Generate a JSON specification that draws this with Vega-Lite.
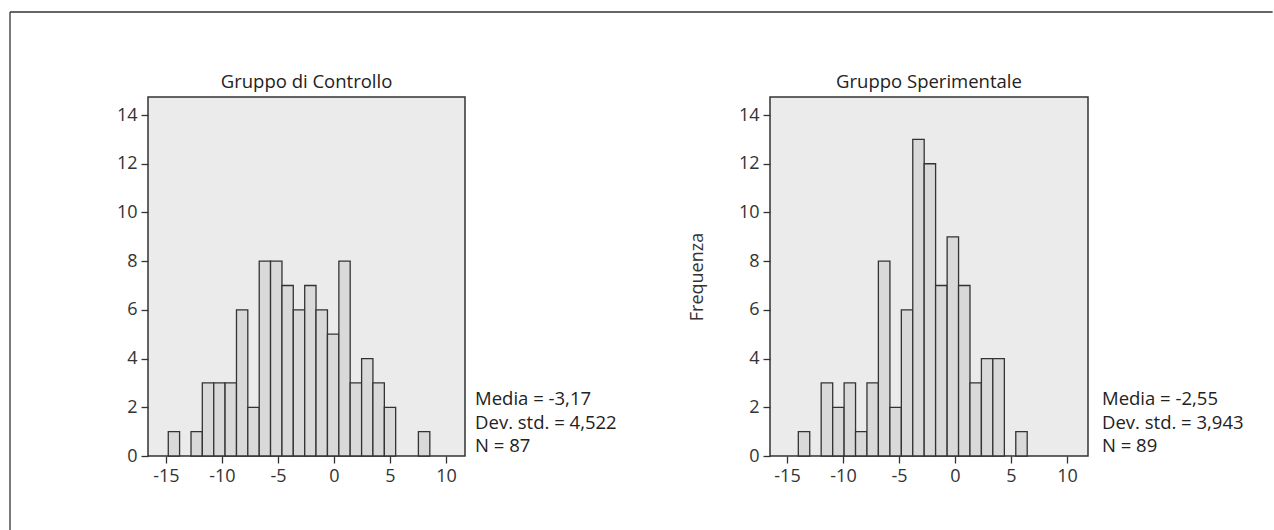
{
  "$schema": "https://vega.github.io/schema/vega-lite/v6.json",
  "padding": {"left": 8, "top": 10, "right": 0, "bottom": 0},
  "background": "white",
  "config": {
    "font": "Open Sans",
    "view": {"stroke": "#333333", "strokeWidth": 1.5, "fill": "#ebebeb"},
    "axis": {"grid": false, "domain": false, "tickColor": "#333333", "tickSize": 7, "tickWidth": 1.3, "labelColor": "#333333", "labelFontSize": 18, "labelPadding": 4, "titleColor": "#333333", "titleFontSize": 18, "titleFontWeight": "normal", "labelExpr": "'' + datum.value"},
    "title": {"fontSize": 18.5, "fontWeight": "normal", "color": "#222222", "offset": 8}
  },
  "datasets": {
    "controllo": [
      {"start": -14.79, "end": -13.78, "count": 1},
      {"start": -12.76, "end": -11.75, "count": 1},
      {"start": -11.75, "end": -10.73, "count": 3},
      {"start": -10.73, "end": -9.72, "count": 3},
      {"start": -9.72, "end": -8.70, "count": 3},
      {"start": -8.70, "end": -7.69, "count": 6},
      {"start": -7.69, "end": -6.67, "count": 2},
      {"start": -6.67, "end": -5.66, "count": 8},
      {"start": -5.66, "end": -4.64, "count": 8},
      {"start": -4.64, "end": -3.63, "count": 7},
      {"start": -3.63, "end": -2.61, "count": 6},
      {"start": -2.61, "end": -1.60, "count": 7},
      {"start": -1.60, "end": -0.58, "count": 6},
      {"start": -0.58, "end": 0.44, "count": 5},
      {"start": 0.44, "end": 1.45, "count": 8},
      {"start": 1.45, "end": 2.47, "count": 3},
      {"start": 2.47, "end": 3.48, "count": 4},
      {"start": 3.48, "end": 4.50, "count": 3},
      {"start": 4.50, "end": 5.51, "count": 2},
      {"start": 7.54, "end": 8.56, "count": 1}
    ],
    "sperimentale": [
      {"start": -13.99, "end": -12.97, "count": 1},
      {"start": -11.95, "end": -10.92, "count": 3},
      {"start": -10.92, "end": -9.90, "count": 2},
      {"start": -9.90, "end": -8.88, "count": 3},
      {"start": -8.88, "end": -7.86, "count": 1},
      {"start": -7.86, "end": -6.84, "count": 3},
      {"start": -6.84, "end": -5.81, "count": 8},
      {"start": -5.81, "end": -4.79, "count": 2},
      {"start": -4.79, "end": -3.77, "count": 6},
      {"start": -3.77, "end": -2.75, "count": 13},
      {"start": -2.75, "end": -1.73, "count": 12},
      {"start": -1.73, "end": -0.70, "count": 7},
      {"start": -0.70, "end": 0.32, "count": 9},
      {"start": 0.32, "end": 1.34, "count": 7},
      {"start": 1.34, "end": 2.36, "count": 3},
      {"start": 2.36, "end": 3.38, "count": 4},
      {"start": 3.38, "end": 4.41, "count": 4},
      {"start": 5.43, "end": 6.45, "count": 1}
    ],
    "stat_c": [{"stat": "Media = -3,17\nDev. std. = 4,522\nN = 87"}],
    "stat_s": [{"stat": "Media = -2,55\nDev. std. = 3,943\nN = 89"}],
    "frame": [{"name": "cornice"}]
  },
  "bounds": "flush",
  "spacing": 305,
  "hconcat": [
    {
      "width": 317,
      "height": 359,
      "title": {"text": "Gruppo di Controllo", "dy": 88},
      "layer": [
        {
          "data": {"name": "frame"},
          "mark": {"type": "rule", "stroke": "#333333", "strokeWidth": 1.3, "clip": false},
          "encoding": {
            "x": {"datum": -28.92, "type": "quantitative"},
            "y": {"datum": 18.23, "type": "quantitative"},
            "y2": {"datum": -3.04}
          }
        },
        {
          "data": {"name": "frame"},
          "mark": {"type": "rule", "stroke": "#333333", "strokeWidth": 1.3, "clip": false},
          "encoding": {
            "x": {"datum": -28.92, "type": "quantitative"},
            "x2": {"datum": 83.8},
            "y": {"datum": 18.23, "type": "quantitative"}
          }
        },
        {
          "data": {"name": "controllo"},
          "mark": {"type": "rect", "fill": "#d9d9d9", "stroke": "#333333", "strokeWidth": 1.3},
          "encoding": {
            "x": {"field": "start", "type": "quantitative", "scale": {"domain": [-16.6, 11.7], "nice": false, "zero": false}, "axis": {"values": [-15, -10, -5, 0, 5, 10], "title": null}},
            "x2": {"field": "end"},
            "y": {"field": "count", "type": "quantitative", "scale": {"domain": [0, 14.74], "nice": false}, "axis": {"values": [0, 2, 4, 6, 8, 10, 12, 14], "title": null}},
            "y2": {"datum": 0}
          }
        },
        {
          "data": {"name": "stat_c"},
          "mark": {"type": "text", "align": "left", "baseline": "middle", "lineBreak": "\n", "lineHeight": 23.5, "fontSize": 18.5, "color": "#222222"},
          "encoding": {
            "x": {"datum": 12.6},
            "y": {"datum": 2.34},
            "text": {"field": "stat", "type": "nominal"}
          }
        }
      ]
    },
    {
      "width": 318,
      "height": 359,
      "title": {"text": "Gruppo Sperimentale", "dy": 2},
      "layer": [
        {
          "data": {"name": "sperimentale"},
          "mark": {"type": "rect", "fill": "#d9d9d9", "stroke": "#333333", "strokeWidth": 1.3},
          "encoding": {
            "x": {"field": "start", "type": "quantitative", "scale": {"domain": [-16.52, 11.88], "nice": false, "zero": false}, "axis": {"values": [-15, -10, -5, 0, 5, 10], "title": null}},
            "x2": {"field": "end"},
            "y": {"field": "count", "type": "quantitative", "scale": {"domain": [0, 14.74], "nice": false}, "axis": {"values": [0, 2, 4, 6, 8, 10, 12, 14], "title": "Frequenza", "titlePadding": 32}},
            "y2": {"datum": 0}
          }
        },
        {
          "data": {"name": "stat_s"},
          "mark": {"type": "text", "align": "left", "baseline": "middle", "lineBreak": "\n", "lineHeight": 23.5, "fontSize": 18.5, "color": "#222222"},
          "encoding": {
            "x": {"datum": 13.13},
            "y": {"datum": 2.34},
            "text": {"field": "stat", "type": "nominal"}
          }
        }
      ]
    }
  ]
}
